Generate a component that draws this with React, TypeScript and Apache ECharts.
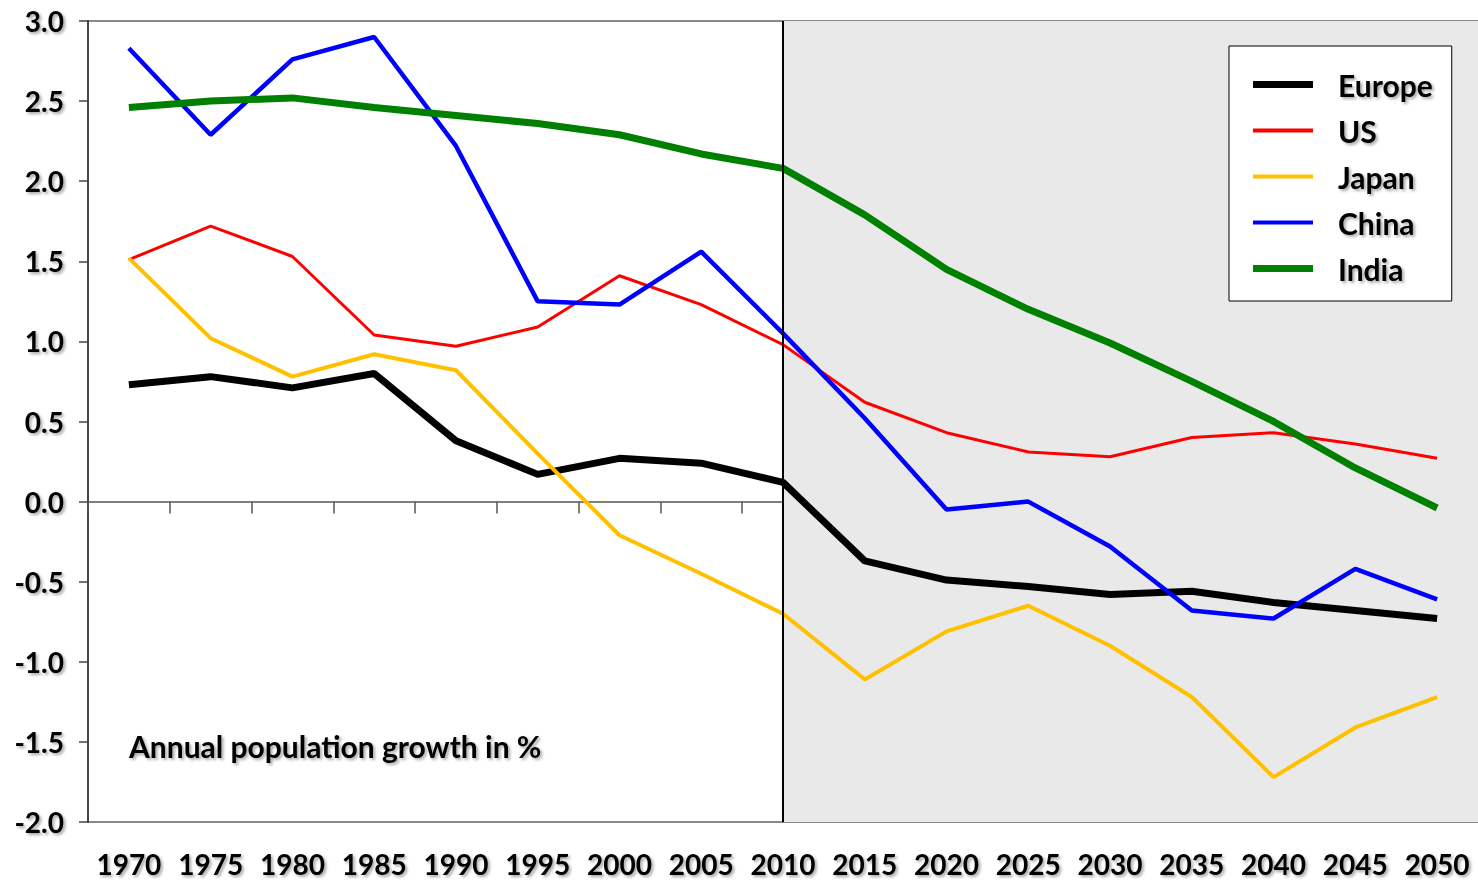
import React, { useEffect, useRef } from "react";
import * as echarts from "echarts";

const years = ["1970","1975","1980","1985","1990","1995","2000","2005","2010","2015","2020","2025","2030","2035","2040","2045","2050"];
const europe = [0.73,0.78,0.71,0.80,0.38,0.17,0.27,0.24,0.12,-0.37,-0.49,-0.53,-0.58,-0.56,-0.63,-0.68,-0.73];
const us = [1.51,1.72,1.53,1.04,0.97,1.09,1.41,1.23,0.98,0.62,0.43,0.31,0.28,0.40,0.43,0.36,0.27];
const japan = [1.52,1.02,0.78,0.92,0.82,0.30,-0.21,-0.45,-0.70,-1.11,-0.81,-0.65,-0.90,-1.22,-1.72,-1.41,-1.22];
const china = [2.83,2.29,2.76,2.90,2.22,1.25,1.23,1.56,1.05,0.52,-0.05,0.00,-0.28,-0.68,-0.73,-0.42,-0.61];
const india = [2.46,2.50,2.52,2.46,2.41,2.36,2.29,2.17,2.08,1.79,1.45,1.20,0.99,0.75,0.50,0.21,-0.04];
const forecastStart = 2010;
const yearSpanMin = 1967.5;
const yearSpanMax = 2052.5;
const annotation = "Annual population growth in %";

const FONT = "Lato, 'Open Sans', sans-serif";
const shadow = {
  textShadowColor: "rgba(0,0,0,0.35)",
  textShadowBlur: 3,
  textShadowOffsetX: 2,
  textShadowOffsetY: 2,
};

export default function App() {
  const ref = useRef<HTMLDivElement>(null);
  useEffect(() => {
    if (!ref.current) return;
    const chart = echarts.init(ref.current, undefined, { renderer: "svg" });
    const seriesDefs = [
      { name: "Europe", data: europe, color: "#000000", width: 7 },
      { name: "US", data: us, color: "#ff0000", width: 3 },
      { name: "Japan", data: japan, color: "#ffc000", width: 4 },
      { name: "China", data: china, color: "#0000ff", width: 4.5 },
      { name: "India", data: india, color: "#008000", width: 7 },
    ];
    const thick = "path://M0,0H60V7H0Z";
    const thin = "path://M0,0H60V4H0Z";
    chart.setOption({
      animation: false,
      backgroundColor: "#ffffff",
      textStyle: { fontFamily: FONT },
      grid: {
        left: 88,
        top: 21,
        right: 0,
        bottom: 58,
        show: true,
        borderColor: "#888888",
        borderWidth: 2,
        backgroundColor: "transparent",
      },
      title: {
        text: annotation,
        left: 124,
        top: 726,
        textStyle: { fontFamily: FONT, fontWeight: 700, fontSize: 30, color: "#000", ...shadow },
      },
      legend: {
        orient: "vertical",
        left: 1229,
        top: 46,
        backgroundColor: "#ffffff",
        borderColor: "#000000",
        borderWidth: 1,
        padding: [22, 19, 16, 24],
        itemWidth: 60,
        itemHeight: 7,
        itemGap: 13,
        itemStyle: { borderWidth: 0 },
        textStyle: {
          fontFamily: FONT,
          fontWeight: 700,
          fontSize: 30,
          color: "#000",
          lineHeight: 33,
          padding: [0, 0, 0, 20],
          ...shadow,
        },
        data: seriesDefs.map((s) => ({ name: s.name, icon: s.width >= 7 ? thick : thin })),
      },
      xAxis: [
        {
          type: "category",
          data: years,
          position: "bottom",
          boundaryGap: true,
          axisLine: { show: false, onZero: false },
          axisTick: { show: false },
          axisLabel: {
            margin: 28,
            fontFamily: FONT,
            fontWeight: 700,
            fontSize: 28,
            lineHeight: 28,
            color: "#000",
            interval: 0,
            ...shadow,
          },
          splitLine: { show: false },
        },
        {
          type: "category",
          data: years,
          position: "bottom",
          boundaryGap: true,
          axisLine: { show: true, onZero: true, lineStyle: { color: "#555555", width: 1.5 } },
          axisTick: { show: true, length: 12, interval: 0, lineStyle: { color: "#555555", width: 1.5 } },
          axisLabel: { show: false },
          splitLine: { show: false },
        },
        {
          type: "value",
          min: yearSpanMin,
          max: yearSpanMax,
          show: false,
          splitLine: { show: false },
        },
      ],
      yAxis: {
        type: "value",
        min: -2,
        max: 3,
        interval: 0.5,
        axisLine: { show: true, lineStyle: { color: "#444444", width: 2 } },
        axisTick: { show: true, length: 9, lineStyle: { color: "#444444", width: 1.5 } },
        splitLine: { show: false },
        axisLabel: {
          margin: 24,
          formatter: (v: number) => v.toFixed(1),
          fontFamily: FONT,
          fontWeight: 700,
          fontSize: 28,
          color: "#000",
          ...shadow,
        },
      },
      series: [
        {
          name: "forecast",
          type: "line",
          xAxisIndex: 2,
          data: [],
          silent: true,
          z: 1,
          markArea: {
            silent: true,
            itemStyle: { color: "#e9e9e9" },
            data: [[{ xAxis: forecastStart, yAxis: 3 }, { xAxis: yearSpanMax, yAxis: -2 }]],
          },
          markLine: {
            silent: true,
            symbol: "none",
            label: { show: false },
            lineStyle: { color: "#000000", width: 2, type: "solid" },
            data: [{ xAxis: forecastStart }],
          },
        },
        ...seriesDefs.map((s) => ({
          name: s.name,
          type: "line",
          xAxisIndex: 0,
          data: s.data,
          showSymbol: false,
          symbol: "none",
          color: s.color,
          itemStyle: { color: s.color },
          lineStyle: { color: s.color, width: s.width },
          z: 3,
        })),
      ],
    });
    return () => chart.dispose();
  }, []);
  return (
    <div
      ref={ref}
      style={{ position: "fixed", left: 0, top: 0, width: 1478, height: 880 }}
    />
  );
}
